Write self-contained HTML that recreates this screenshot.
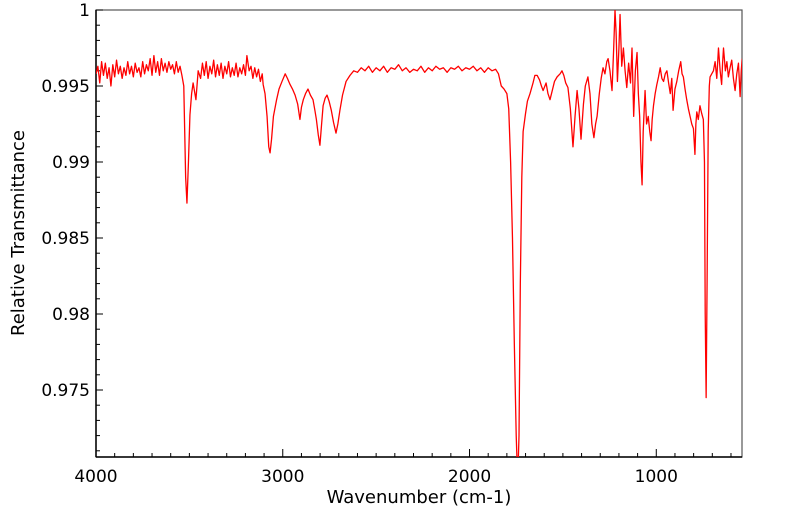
<!DOCTYPE html>
<html><head><meta charset="utf-8"><style>
html,body{margin:0;padding:0;background:#fff;}
svg{display:block;font-family:"DejaVu Sans","Liberation Sans",sans-serif;}
</style></head><body>
<svg id="chart" width="799" height="516" viewBox="0 0 799 516" xmlns="http://www.w3.org/2000/svg">
<defs><clipPath id="plotclip"><rect x="96" y="10" width="646" height="447"/></clipPath></defs>
<g id="axes"></g>
<g id="series" clip-path="url(#plotclip)"></g>
<text x="419" y="503" font-size="18" text-anchor="middle">Wavenumber (cm-1)</text>
<text x="24" y="233" font-size="18" text-anchor="middle" transform="rotate(-90 24 233)">Relative Transmittance</text>
</svg>
<script>
const wavenumbers = [4000,3990,3980,3970,3960,3950,3940,3930,3920,3910,3900,3890,3880,3870,3860,3850,3840,3830,3820,3810,3800,3790,3780,3770,3760,3750,3740,3730,3720,3710,3700,3690,3680,3670,3660,3650,3640,3630,3620,3610,3600,3590,3580,3570,3560,3550,3540,3530,3520,3513,3505,3497,3488,3480,3465,3453,3440,3430,3420,3410,3400,3390,3380,3370,3360,3350,3340,3330,3320,3310,3300,3290,3280,3270,3260,3250,3240,3230,3220,3210,3200,3192,3180,3170,3160,3150,3140,3130,3120,3110,3105,3095,3084,3075,3068,3060,3050,3033,3020,3004,2987,2975,2961,2948,2934,2920,2908,2900,2890,2878,2865,2852,2838,2828,2820,2810,2801,2792,2784,2773,2763,2752,2740,2728,2715,2705,2694,2680,2661,2640,2620,2600,2580,2560,2540,2520,2500,2480,2460,2440,2420,2400,2380,2360,2340,2320,2300,2280,2260,2240,2220,2200,2180,2160,2140,2120,2100,2080,2060,2040,2020,2000,1980,1960,1940,1920,1900,1880,1860,1845,1830,1815,1800,1790,1780,1770,1760,1750,1742,1735,1728,1720,1713,1700,1690,1676,1660,1650,1638,1625,1615,1606,1590,1580,1569,1555,1545,1531,1515,1505,1495,1485,1473,1460,1446,1435,1424,1414,1403,1390,1380,1366,1355,1345,1334,1325,1317,1305,1295,1285,1275,1265,1258,1248,1237,1228,1221,1215,1208,1200,1194,1185,1176,1167,1158,1148,1138,1130,1121,1112,1103,1096,1089,1082,1076,1070,1060,1052,1043,1035,1028,1022,1015,1006,997,988,979,970,961,952,943,934,925,917,910,900,890,880,869,862,855,846,837,828,819,810,801,793,788,783,775,766,757,748,742,738,733,728,722,716,712,703,694,685,676,667,658,650,645,640,630,622,614,605,596,587,578,569,560,551,545,540];
const transmittance = [0.9958,0.9963,0.9952,0.9966,0.9957,0.9965,0.9955,0.9962,0.9950,0.9964,0.9956,0.9967,0.9958,0.9963,0.9955,0.9962,0.9957,0.9966,0.9958,0.9963,0.9956,0.9965,0.9959,0.9962,0.9956,0.9966,0.9958,0.9964,0.9960,0.9968,0.9957,0.9970,0.9959,0.9966,0.9957,0.9968,0.9960,0.9965,0.9959,0.9966,0.9961,0.9964,0.9958,0.9966,0.9959,0.9963,0.9957,0.9950,0.9890,0.9873,0.9900,0.9931,0.9945,0.9952,0.9941,0.9960,0.9955,0.9965,0.9957,0.9966,0.9955,0.9963,0.9958,0.9967,0.9956,0.9964,0.9957,0.9965,0.9955,0.9963,0.9958,0.9966,0.9956,0.9962,0.9957,0.9965,0.9956,0.9962,0.9958,0.9964,0.9957,0.9970,0.9960,0.9963,0.9955,0.9962,0.9956,0.9961,0.9953,0.9958,0.9951,0.9945,0.9930,0.9910,0.9906,0.9915,0.9930,0.9941,0.9948,0.9953,0.9958,0.9955,0.9951,0.9948,0.9944,0.9938,0.9928,0.9936,0.9941,0.9945,0.9948,0.9944,0.9941,0.9934,0.9928,0.9918,0.9911,0.9925,0.9937,0.9942,0.9944,0.9940,0.9934,0.9926,0.9919,0.9925,0.9934,0.9944,0.9953,0.9957,0.9960,0.9959,0.9962,0.9960,0.9963,0.9959,0.9962,0.9960,0.9963,0.9959,0.9962,0.9961,0.9964,0.9960,0.9962,0.9959,0.9961,0.9960,0.9963,0.9959,0.9962,0.9960,0.9963,0.9961,0.9962,0.9959,0.9962,0.9961,0.9963,0.9960,0.9962,0.9961,0.9963,0.9960,0.9962,0.9959,0.9962,0.9960,0.9961,0.9958,0.9950,0.9948,0.9945,0.9935,0.9900,0.9850,0.9780,0.9720,0.9690,0.9720,0.9820,0.9890,0.9920,0.9932,0.9940,0.9945,0.9952,0.9957,0.9957,0.9954,0.9950,0.9947,0.9952,0.9945,0.9941,0.9948,0.9953,0.9956,0.9958,0.9960,0.9957,0.9952,0.9949,0.9935,0.9910,0.9930,0.9947,0.9935,0.9915,0.9938,0.9950,0.9956,0.9945,0.9925,0.9916,0.9925,0.9930,0.9945,0.9955,0.9962,0.9958,0.9966,0.9968,0.9960,0.9947,0.9975,1.0000,0.9985,0.9953,0.9975,0.9997,0.9963,0.9975,0.9960,0.9949,0.9965,0.9952,0.9975,0.9930,0.9960,0.9972,0.9945,0.9930,0.9900,0.9885,0.9920,0.9947,0.9925,0.9930,0.9920,0.9914,0.9928,0.9937,0.9945,0.9951,0.9956,0.9962,0.9955,0.9953,0.9958,0.9960,0.9952,0.9945,0.9955,0.9934,0.9948,0.9953,0.9960,0.9966,0.9958,0.9956,0.9948,0.9941,0.9935,0.9930,0.9925,0.9922,0.9905,0.9925,0.9933,0.9928,0.9937,0.9932,0.9928,0.9900,0.9800,0.9745,0.9820,0.9920,0.9950,0.9956,0.9958,0.9960,0.9966,0.9955,0.9975,0.9960,0.9951,0.9965,0.9975,0.9960,0.9966,0.9956,0.9962,0.9967,0.9955,0.9947,0.9958,0.9965,0.9943,0.9960,0.9968];
const xTickLabels = [4000,3000,2000,1000];
const yTickLabels = ["0.975","0.98","0.985","0.99","0.995","1"];
const yTickValues = [0.975,0.98,0.985,0.99,0.995,1];

const L=96,R=742,T=10,B=457;
const X0=4000,X1=541,Y0=0.970592,Y1=1;
function xs(w){return L+(X0-w)/(X0-X1)*(R-L);}
function ys(v){return B-(v-Y0)/(Y1-Y0)*(B-T);}
const NS="http://www.w3.org/2000/svg";
function mk(tag,attrs,parent){const e=document.createElementNS(NS,tag);for(const k in attrs)e.setAttribute(k,attrs[k]);parent.appendChild(e);return e;}
const ax=document.getElementById('axes');
const fr=mk('rect',{x:L,y:T,width:R-L,height:B-T,fill:'none',stroke:'#555','stroke-width':1.2},ax);


const yl=mk('line',{x1:L,y1:T,x2:L,y2:B,stroke:'#000','stroke-width':1.5},ax);


const xl=mk('line',{x1:L,y1:B,x2:R,y2:B,stroke:'#000','stroke-width':1.5},ax);


for(let w=4000;w>=X1;w-=100){
  const x=xs(w);const major=(w%1000===0);
  const t=mk('line',{x1:x,y1:B,x2:x,y2:B-(major?8:4),stroke:'#000','stroke-width':1},ax);
  
  
}
xTickLabels.forEach(w=>{
  const t=mk('text',{x:xs(w),y:B+25,'font-size':17,'text-anchor':'middle'},ax);t.textContent=w;
  
  
});
for(let i=971;i<=1000;i++){
  const v=i/1000;const y=ys(v);const major=(i%5===0);
  const t=mk('line',{x1:L,y1:y,x2:L+(major?7:4),y2:y,stroke:'#000','stroke-width':1},ax);
  
  
}
yTickValues.forEach((v,i)=>{
  const t=mk('text',{x:L-6,y:ys(v)+6,'font-size':17,'text-anchor':'end'},ax);t.textContent=yTickLabels[i];
  
  
});
const sg=document.getElementById('series');
const d=wavenumbers.map((w,i)=>(i?'L':'M')+xs(w).toFixed(2)+' '+ys(transmittance[i]).toFixed(2)).join(' ');
const p=mk('path',{d:d,fill:'none',stroke:'#ff0000','stroke-width':1.3,'stroke-linejoin':'round'},sg);


</script>
</body></html>
